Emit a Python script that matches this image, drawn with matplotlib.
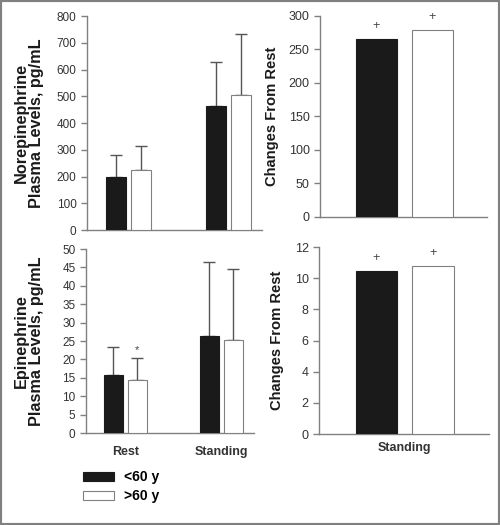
import matplotlib
matplotlib.use("Agg")
import matplotlib.pyplot as plt
import matplotlib.patches as patches

plt.rcParams['font.family'] = ['Liberation Sans', 'DejaVu Sans']

groups = ["Rest", "Standing"]
series = ["<60 y", ">60 y"]

# Norepinephrine plasma levels, pg/mL
ne_young = [200, 465]
ne_young_sd = [80, 162]
ne_old = [224, 503]
ne_old_sd = [90, 230]

# Epinephrine plasma levels, pg/mL
epi_young = [15.9, 26.4]
epi_young_sd = [7.6, 20.2]
epi_old = [14.4, 25.3]
epi_old_sd = [6.1, 19.4]

# changes from rest (standing)
ne_change = [265, 279]
epi_change = [10.47, 10.78]

BLACK = "#1a1a1a"
GRAY = "#808080"
TXT = "#333333"

fig = plt.figure(figsize=(5.0, 5.25), dpi=100)
fig.patches.append(patches.Rectangle((0, 0), 1, 1, transform=fig.transFigure,
                                     fill=False, edgecolor=GRAY, linewidth=3))


def style_axes(ax, tick_size, xpad):
    for s in ["top", "right"]:
        ax.spines[s].set_visible(False)
    for s in ["left", "bottom"]:
        ax.spines[s].set_color(GRAY)
        ax.spines[s].set_linewidth(1)
    ax.tick_params(axis="y", colors=GRAY, labelcolor=TXT, labelsize=tick_size,
                   length=4, width=1, direction="out")
    ax.tick_params(axis="x", length=0, labelsize=9, labelcolor=TXT, pad=xpad)


def group_plot(ax, young, young_sd, old, old_sd):
    x = range(len(groups))
    xb = [i - 0.125 for i in x]
    xw = [i + 0.125 for i in x]
    ax.bar(xb, young, 0.2, color=BLACK, edgecolor=BLACK, linewidth=0.8, zorder=3)
    ax.bar(xw, old, 0.2, color="white", edgecolor=GRAY, linewidth=0.8, zorder=3)
    ax.errorbar(xb, young, yerr=[[0] * len(young), young_sd], fmt="none",
                ecolor="#555555", elinewidth=1, capsize=4, capthick=1, zorder=2)
    ax.errorbar(xw, old, yerr=[[0] * len(old), old_sd], fmt="none",
                ecolor="#555555", elinewidth=1, capsize=4, capthick=1, zorder=2)
    ax.set_xlim(-0.41, 1.34)
    ax.set_xticks(list(x))


def change_plot(ax, vals):
    xs = [-0.275, 0.28]
    ax.bar(xs[0], vals[0], 0.41, color=BLACK, edgecolor=BLACK, linewidth=0.8, zorder=3)
    ax.bar(xs[1], vals[1], 0.41, color="white", edgecolor=GRAY, linewidth=0.8, zorder=3)
    for xi, v in zip(xs, vals):
        ax.annotate("+", (xi, v), xytext=(0, 5), textcoords="offset points",
                    ha="center", va="bottom", fontsize=9, color="#444444")
    ax.set_xlim(-0.84, 0.83)
    ax.set_xticks([0])


# top left: norepinephrine
ax1 = fig.add_axes([0.174, 0.5619, 0.35, 0.4076])
group_plot(ax1, ne_young, ne_young_sd, ne_old, ne_old_sd)
ax1.set_ylim(0, 800)
ax1.set_yticks(range(0, 801, 100))
ax1.set_xticklabels([])
style_axes(ax1, 8.5, 3)
ax1.set_ylabel("Norepinephrine\nPlasma Levels, pg/mL", fontsize=11.7, fontweight="bold",
               color=BLACK, linespacing=1.0)
ax1.yaxis.set_label_coords(-0.246, 0.5)

# bottom left: epinephrine
ax2 = fig.add_axes([0.172, 0.1752, 0.336, 0.3505])
group_plot(ax2, epi_young, epi_young_sd, epi_old, epi_old_sd)
ax2.set_ylim(0, 50)
ax2.set_yticks(range(0, 51, 5))
ax2.set_xticklabels(groups, fontweight="bold")
style_axes(ax2, 8.5, 9)
ax2.set_ylabel("Epinephrine\nPlasma Levels, pg/mL", fontsize=11.7, fontweight="bold",
               color=BLACK, linespacing=1.0)
ax2.yaxis.set_label_coords(-0.25, 0.5)
ax2.annotate("*", (0.125, epi_old[0] + epi_old_sd[0]), xytext=(0, 2),
             textcoords="offset points", ha="center", va="bottom", fontsize=8, color="#444444")

# top right: norepinephrine change
ax3 = fig.add_axes([0.64, 0.5867, 0.334, 0.3829])
change_plot(ax3, ne_change)
ax3.set_ylim(0, 300)
ax3.set_yticks(range(0, 301, 50))
ax3.set_xticklabels([])
style_axes(ax3, 9, 3)
ax3.set_ylabel("Changes From Rest", fontsize=10.6, fontweight="bold", color=BLACK)
ax3.yaxis.set_label_coords(-0.245, 0.5)

# bottom right: epinephrine change
ax4 = fig.add_axes([0.638, 0.1733, 0.34, 0.3562])
change_plot(ax4, epi_change)
ax4.set_ylim(0, 12)
ax4.set_yticks(range(0, 13, 2))
ax4.set_xticklabels(["Standing"], fontweight="bold")
style_axes(ax4, 9, 6)
ax4.set_ylabel("Changes From Rest", fontsize=10.6, fontweight="bold", color=BLACK)
ax4.yaxis.set_label_coords(-0.206, 0.5)

handles = [patches.Patch(facecolor=BLACK, edgecolor=BLACK, linewidth=0.8),
           patches.Patch(facecolor="white", edgecolor=GRAY, linewidth=0.8)]
fig.legend(handles, series, loc="upper left", bbox_to_anchor=(0.165, 0.104),
           frameon=False, prop={"weight": "bold", "size": 10},
           handlelength=2.3, handleheight=0.6, handletextpad=0.7,
           labelspacing=0.35, borderaxespad=0, borderpad=0)

fig.savefig("out.png", dpi=100)
